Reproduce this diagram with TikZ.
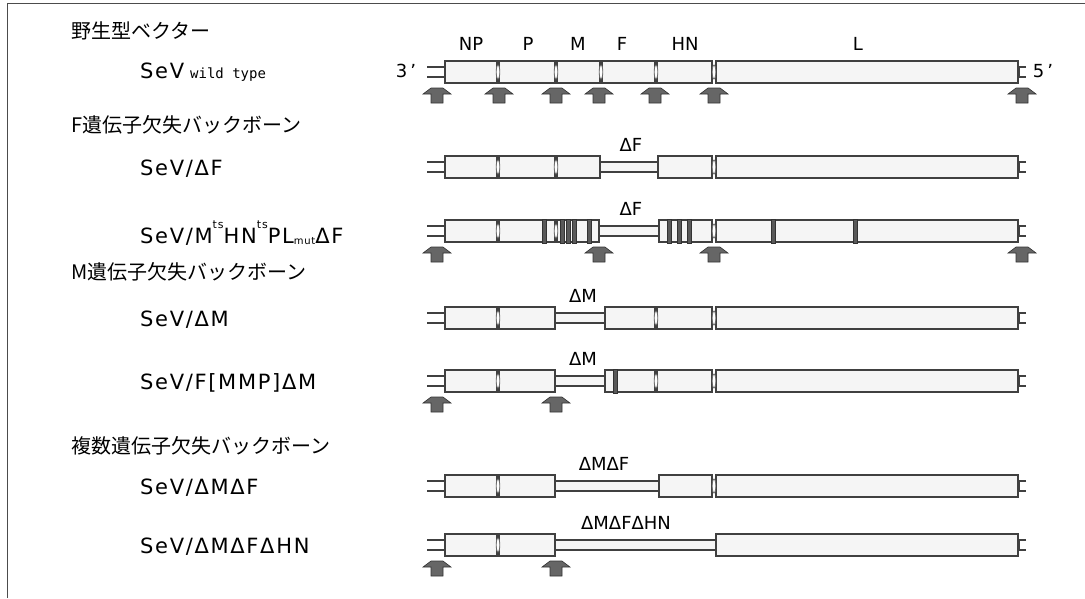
\documentclass[tikz,border=0pt]{standalone}
\usepackage{fontspec}
\setmainfont{DejaVu Sans}
\newfontfamily\jp{Noto Sans CJK JP}
\newfontfamily\lab[LetterSpace=8]{DejaVu Sans}
\newfontfamily\monof{DejaVu Sans Mono}
\tikzset{
  frame/.style={draw=black!70, line width=0.8pt},
  genebox/.style={draw=black!75, line width=1.2pt, fill=black!4},
  delbar/.style={draw=black!75, line width=1.2pt, fill=black!4},
  stubline/.style={draw=black!75, line width=1.4pt},
  junction/.style={draw=black!60, line width=0.8pt, fill=white},
  band/.style={draw=black!80, fill=black!65, line width=0.6pt},
  uparrow/.style={draw=black!80, fill=black!60, line width=0.6pt},
  title/.style={anchor=west, font=\jp\fontsize{20}{20}\selectfont, inner sep=0pt},
  vname/.style={anchor=west, font=\lab\fontsize{21}{21}\selectfont, inner sep=0pt},
  glabel/.style={font=\fontsize{18}{18}\selectfont, inner sep=0pt},
  dlabel/.style={font=\fontsize{18}{18}\selectfont, inner sep=0pt},
  endlabel/.style={font=\fontsize{18}{18}\selectfont, inner sep=0pt}
}
% gene box: x1, x2, y
\newcommand\gbox[3]{\draw[genebox] (#1,#3-11) rectangle (#2,#3+11);}
\newcommand\dbar[3]{\draw[delbar] (#1,#3-5) rectangle (#2,#3+5);}
\newcommand\jn[2]{\draw[junction] (#1,#2) ellipse [x radius=1.8, y radius=7];}
\newcommand\mband[2]{\draw[band] (#1,#2-12) rectangle (#1+4,#2+12);}
\newcommand\genends[1]{%
  \draw[stubline] (427,#1-5) -- (445,#1-5) (427,#1+5) -- (445,#1+5);
  \draw[stubline] (1026,#1-5) -- (1019,#1-5) -- (1019,#1+5) -- (1026,#1+5);}
\newcommand\uarr[2]{\draw[uparrow] (#1-14,#2+6) -- (#1-6,#2) -- (#1+6,#2) -- (#1+14,#2+6) -- (#1+6,#2+6) -- (#1+6,#2+15) -- (#1-6,#2+15) -- (#1-6,#2+6) -- cycle;}
\newcommand\wtrow[1]{%
  \genends{#1}
  \gbox{445}{497}{#1}\gbox{499}{555}{#1}\gbox{557}{600}{#1}\gbox{602}{655}{#1}\gbox{657}{712}{#1}\gbox{716}{1018}{#1}
  \jn{498}{#1}\jn{556}{#1}\jn{601}{#1}\jn{656}{#1}\jn{714}{#1}}
\begin{document}
\begin{tikzpicture}[x=1pt,y=-1pt]
\useasboundingbox (0,0) rectangle (1085,598);
\draw[frame] (7,598) -- (7,3) -- (1085,3);

% ---------- row 1: wild type
\node[title] (t1) at (71,31) {野生型ベクター};
\node[vname] (v1) at (140,72) {SeV\hspace{6pt}{\monof\fontsize{14}{14}\selectfont wild type}};
\node[endlabel] (e3) at (406,71) {3\,'};
\node[endlabel] (e5) at (1043,71) {5\,'};
\node[glabel] (lNP) at (471,44) {NP};
\node[glabel] (lP) at (528,44) {P};
\node[glabel] (lM) at (578,44) {M};
\node[glabel] (lF) at (622,44) {F};
\node[glabel] (lHN) at (685,44) {HN};
\node[glabel] (lL) at (858,44) {L};
\wtrow{72}
\foreach \x in {437,499,556,599,655,714,1022} {\uarr{\x}{88}}

% ---------- row 2: deltaF
\node[title] (t2) at (71,125) {F遺伝子欠失バックボーン};
\node[vname] (v2) at (140,169) {SeV/ΔF};
\node[dlabel] (d2) at (631,145) {ΔF};
\genends{167}
\gbox{445}{497}{167}\gbox{499}{555}{167}\gbox{557}{600}{167}\dbar{600}{658}{167}\gbox{658}{712}{167}\gbox{716}{1018}{167}
\jn{498}{167}\jn{556}{167}\jn{714}{167}

% ---------- row 3: ts mutant
\node[vname] (v3) at (140,233) {SeV/M\raisebox{1.25ex}{\fontsize{11}{11}\selectfont ts}HN\raisebox{1.25ex}{\fontsize{11}{11}\selectfont ts}PL\raisebox{-0.1ex}{\fontsize{10}{10}\selectfont mut}ΔF};
\node[dlabel] (d3) at (631,209) {ΔF};
\genends{231}
\gbox{445}{497}{231}\gbox{499}{555}{231}\gbox{557}{599}{231}\dbar{599}{659}{231}\gbox{659}{712}{231}\gbox{716}{1018}{231}
\jn{498}{231}\jn{556}{231}\jn{714}{231}
\foreach \x in {542,560,566,572,587,667,677,687,771,853} {\mband{\x}{231}}
\foreach \x in {437,599,714,1022} {\uarr{\x}{247}}

% ---------- row 4: deltaM
\node[title] (t4) at (71,272) {M遺伝子欠失バックボーン};
\node[vname] (v4) at (140,320) {SeV/ΔM};
\node[dlabel] (d4) at (583,296) {ΔM};
\genends{318}
\gbox{445}{497}{318}\gbox{499}{555}{318}\dbar{555}{605}{318}\gbox{605}{655}{318}\gbox{657}{712}{318}\gbox{716}{1018}{318}
\jn{498}{318}\jn{656}{318}\jn{714}{318}

% ---------- row 5: F[MMP] deltaM
\node[vname] (v5) at (140,383) {SeV/F[MMP]ΔM};
\node[dlabel] (d5) at (583,359) {ΔM};
\genends{381}
\gbox{445}{497}{381}\gbox{499}{555}{381}\dbar{555}{605}{381}\gbox{605}{655}{381}\gbox{657}{712}{381}\gbox{716}{1018}{381}
\jn{498}{381}\jn{656}{381}\jn{714}{381}
\mband{613}{381}
\foreach \x in {437,556} {\uarr{\x}{397}}

% ---------- row 6: deltaM deltaF
\node[title] (t6) at (71,446) {複数遺伝子欠失バックボーン};
\node[vname] (v6) at (140,488) {SeV/ΔMΔF};
\node[dlabel] (d6) at (604,464) {ΔMΔF};
\genends{486}
\gbox{445}{497}{486}\gbox{499}{555}{486}\dbar{555}{659}{486}\gbox{659}{712}{486}\gbox{716}{1018}{486}
\jn{498}{486}\jn{714}{486}

% ---------- row 7: deltaM deltaF deltaHN
\node[vname] (v7) at (140,547) {SeV/ΔMΔFΔHN};
\node[dlabel] (d7) at (626,523) {ΔMΔFΔHN};
\genends{545}
\gbox{445}{497}{545}\gbox{499}{555}{545}\dbar{555}{716}{545}\gbox{716}{1018}{545}
\jn{498}{545}
\foreach \x in {437,556} {\uarr{\x}{561}}
\end{tikzpicture}
\end{document}
